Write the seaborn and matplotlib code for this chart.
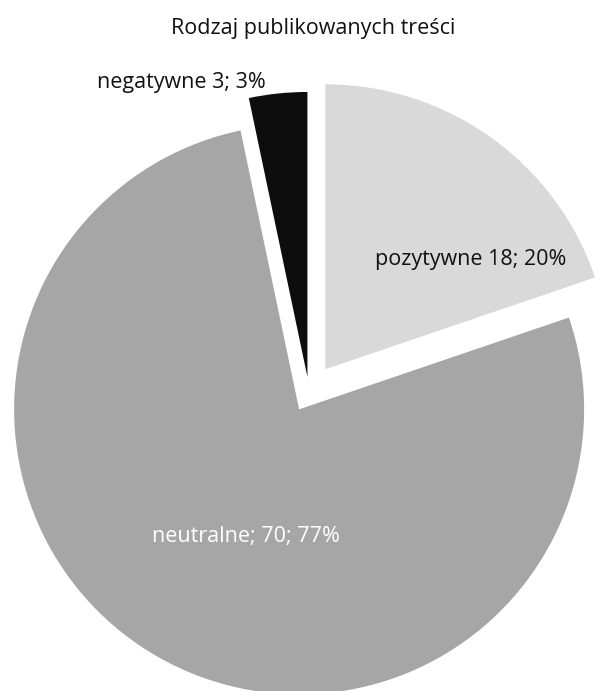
import matplotlib
matplotlib.use("Agg")
import matplotlib.pyplot as plt
import seaborn as sns

categories = ["pozytywne", "neutralne", "negatywne"]
counts = [18, 70, 3]
percents = [20, 77, 3]
slice_labels = ["pozytywne 18; 20%", "neutralne; 70; 77%", "negatywne 3; 3%"]
title = "Rodzaj publikowanych treści"

colors = ["#d9d9d9", "#a6a6a6", "#0d0d0d"]
label_colors = ["#111111", "#ffffff", "#111111"]
explode = [0.098, 0.070, 0.053]
# label spots, figure fraction
label_pos = [(0.777, 0.624), (0.406, 0.223), (0.299, 0.881)]

sns.set_theme(style="white")
plt.rcParams["font.family"] = ["Open Sans", "DejaVu Sans"]

W, H = 606, 691
R = 285.0          # pie radius in px
cx, cy = 309, 392  # pie centre in px (from top-left)

fig = plt.figure(figsize=(W / 100, H / 100), dpi=100)
ax = fig.add_axes([0, 0, 1, 1])
ax.pie(
    counts,
    colors=colors,
    explode=explode,
    startangle=90,
    counterclock=False,
    radius=1.0,
    wedgeprops=dict(linewidth=0),
)
ax.set_xlim(-cx / R, (W - cx) / R)
ax.set_ylim(-(H - cy) / R, cy / R)
ax.set_aspect("equal")
ax.axis("off")

for txt, (x, y), col in zip(slice_labels, label_pos, label_colors):
    fig.text(x, y, txt, ha="center", va="center", fontsize=15.5, color=col)

fig.text(0.516, 0.959, title, ha="center", va="center", fontsize=15.5, color="#111111")

fig.savefig("out.png", dpi=100, facecolor="white")
plt.close(fig)
